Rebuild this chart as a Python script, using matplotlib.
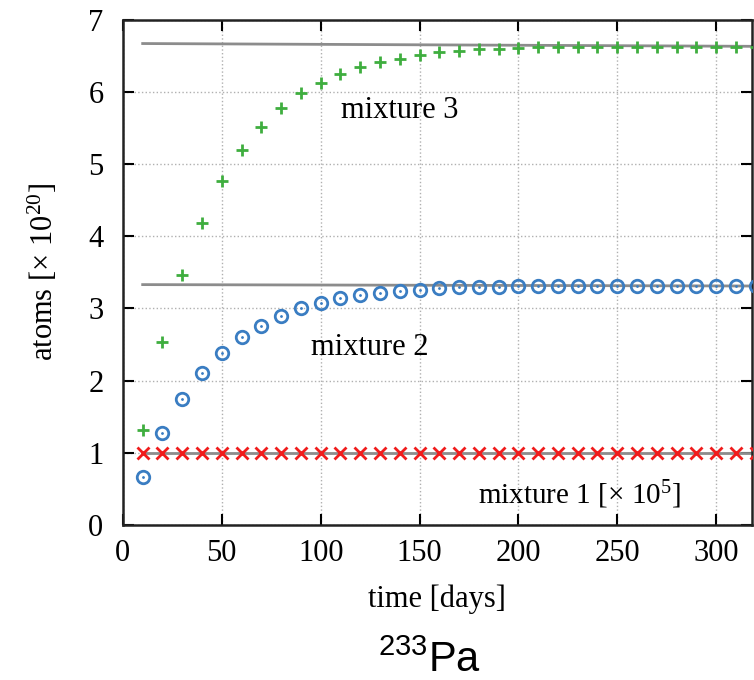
import matplotlib.pyplot as plt
import numpy as np

# time points (days)
t = np.arange(10, 330, 10)

# mixture 3 (green +)
mix3 = [1.32, 2.53, 3.47, 4.19, 4.76, 5.19, 5.52, 5.78, 5.98, 6.13,
        6.25, 6.34, 6.41, 6.46, 6.51, 6.55, 6.57, 6.59, 6.60, 6.61,
        6.62, 6.62, 6.62, 6.62, 6.62, 6.62, 6.62, 6.62, 6.62, 6.62,
        6.62, 6.62]
# mixture 2 (blue circles)
mix2 = [0.67, 1.28, 1.74, 2.10, 2.38, 2.60, 2.76, 2.90, 3.00, 3.08,
        3.14, 3.18, 3.22, 3.24, 3.26, 3.28, 3.29, 3.30, 3.30, 3.31,
        3.31, 3.31, 3.31, 3.31, 3.31, 3.31, 3.31, 3.31, 3.31, 3.31,
        3.31, 3.31]
# mixture 1 (red x, scaled by 1e5)
mix1 = [1.0] * len(t)

# reference (equilibrium) lines: start/end values
ref_t = [10, 330]
ref3 = [6.67, 6.63]
ref2 = [3.33, 3.31]
ref1 = [1.0, 1.0]

plt.rcParams['font.family'] = 'Liberation Serif'
plt.rcParams['mathtext.fontset'] = 'custom'
plt.rcParams['mathtext.rm'] = 'Liberation Serif'
plt.rcParams['mathtext.it'] = 'Liberation Serif:italic'
plt.rcParams['mathtext.sf'] = 'Liberation Sans'

fig = plt.figure(figsize=(7.54, 6.8), dpi=100)
ax = fig.add_axes([0.163, 0.228, 0.834, 0.743])

gray = '#8c8c8c'
ax.plot(ref_t, ref3, color=gray, lw=2, zorder=2)
ax.plot(ref_t, ref2, color=gray, lw=2, zorder=2)
ax.plot(ref_t, ref1, color=gray, lw=2, zorder=2)

ax.plot(t, mix3, ls='none', marker='+', color='#3fae3f', ms=9, mew=2, zorder=3)
ax.plot(t, mix2, ls='none', marker='o', mfc='none', mec='#3a7dc2', ms=9, mew=2, zorder=3)
ax.plot(t, mix2, ls='none', marker='.', color='#3a7dc2', ms=2, zorder=3)
ax.plot(t, mix1, ls='none', marker='x', color='#f01c1c', ms=8, mew=2, zorder=3)

ax.set_xlim(0, 318)
ax.set_ylim(0, 7)
ax.set_xticks([0, 50, 100, 150, 200, 250, 300])
ax.set_yticks(range(8))
ax.grid(True, ls=':', color='#b0b0b0', lw=1)
ax.tick_params(direction='in', length=8, width=1.5, top=True, right=True,
               labelsize=22)
ax.tick_params(axis='y', pad=14)
ax.tick_params(axis='x', pad=10)
for s in ax.spines.values():
    s.set_linewidth(1.8)
    s.set_color('#222222')

ax.text(140, 5.74, 'mixture 3', fontsize=22, ha='center', va='center')
ax.text(125, 2.46, 'mixture 2', fontsize=22, ha='center', va='center')
ax.text(231, 0.42, 'mixture 1 [\u00d7 10$^5$]', fontsize=21,
        ha='center', va='center')

ax.set_xlabel('time [days]', fontsize=22, labelpad=12)
ax.set_ylabel('atoms [\u00d7 10$^{20}$]', fontsize=22, labelpad=20)

fig.text(0.57, 0.012, r'$\mathsf{^{233}Pa}$', fontsize=30,
         ha='center', va='baseline')

fig.savefig('out.png', dpi=100)
